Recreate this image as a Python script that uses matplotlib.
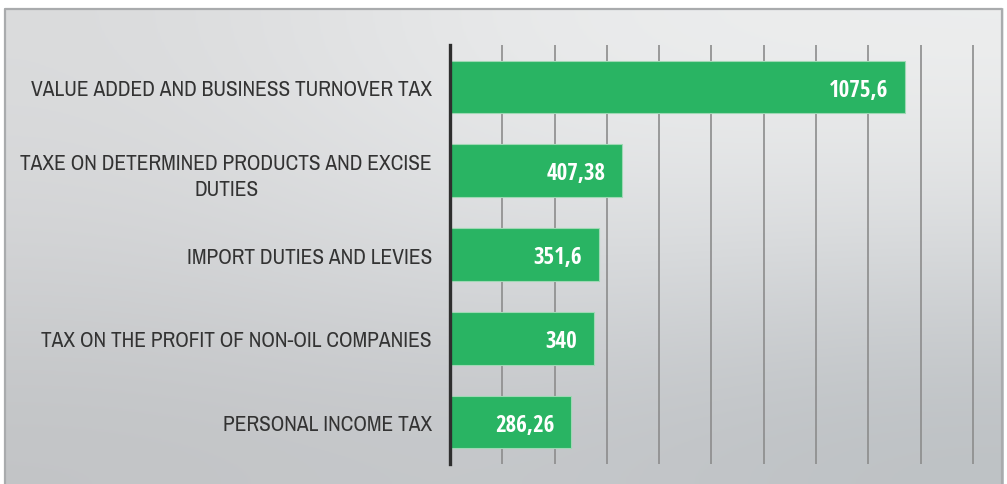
import numpy as np
import matplotlib
matplotlib.use('Agg')
import matplotlib.pyplot as plt
from matplotlib import font_manager
from matplotlib.colors import to_rgb

# === Data ===
categories = [
    'VALUE ADDED AND BUSINESS TURNOVER TAX',
    'TAXE ON DETERMINED PRODUCTS AND EXCISE\nDUTIES',
    'IMPORT DUTIES AND LEVIES',
    'TAX ON THE PROFIT OF NON-OIL COMPANIES',
    'PERSONAL INCOME TAX',
]
values = [1075.6, 407.38, 351.6, 340, 286.26]
value_labels = ['1075,6', '407,38', '351,6', '340', '286,26']


def pick(names):
    installed = {f.name for f in font_manager.fontManager.ttflist}
    for n in names:
        if n in installed:
            return n
    return 'DejaVu Sans'


label_font = pick(['Archivo Narrow', 'Asap Condensed', 'Barlow Semi Condensed', 'Liberation Sans'])
value_font = pick(['Open Sans Condensed', 'Asap Condensed', 'Barlow Semi Condensed', 'Liberation Sans'])
plt.rcParams['font.family'] = [label_font, 'DejaVu Sans']

fig = plt.figure(figsize=(10.07, 4.85), dpi=100)
W, H = 1007, 485

# === Background panel with soft gradient ===
bg = fig.add_axes([4 / W, 0, 999 / W, 476 / H])
bg.set_axis_off()
grid_cols = [['#dadbdc', '#eaebec', '#edeeee'],
             ['#d3d4d6', '#dddfe1', '#d8dadc'],
             ['#c2c4c6', '#c6c8cb', '#bdc1c4']]
img = np.array([[to_rgb(c) for c in row] for row in grid_cols])
bg.imshow(img, aspect='auto', interpolation='bicubic', extent=[0, 1, 0, 1])
bg.set_xlim(0, 1)
bg.set_ylim(0, 1)
bg.plot([0.001, 0.001, 0.999, 0.999], [0, 0.998, 0.998, 0], color='#a9abad',
        linewidth=1.6, transform=bg.transAxes, clip_on=False)

# === Bar chart ===
ax = fig.add_axes([450 / W, 20 / H, 525 / W, 419 / H])
ax.patch.set_alpha(0)
y = np.arange(len(categories))
ax.barh(y, values, height=0.63, color='#29b463', edgecolor='#9fd8b4',
        linewidth=0.8, zorder=3)
ax.set_ylim(len(categories) - 0.5, -0.5)
ax.set_xlim(0, 1240)

ax.set_xticks(np.arange(0, 1240, 123.5))
ax.xaxis.grid(True, color='#8c8c8c', linewidth=1.2, zorder=0)
ax.tick_params(axis='x', length=0, labelbottom=False)
ax.tick_params(axis='y', length=0, pad=13)
for s in ['top', 'right', 'bottom']:
    ax.spines[s].set_visible(False)
ax.spines['left'].set_color('#2e2e2e')
ax.spines['left'].set_linewidth(2.4)
ax.spines['left'].set_zorder(4)

ax.set_yticks(y)
ax.set_yticklabels(categories, fontsize=15.4, color='#333333',
                   multialignment='center', linespacing=1.4)
# the two-line label sits a bit above its bar in the original
ax.get_yticklabels()[1].set_y(-0.08)

for yi, v, lab in zip(y, values, value_labels):
    ax.annotate(lab, xy=(v, yi), xytext=(-12, -2), textcoords='offset points',
                ha='right', va='center', color='white', fontsize=16.5,
                fontweight='bold', family=[value_font, 'DejaVu Sans'], zorder=5)

fig.savefig('out.png', dpi=100, facecolor='white')
